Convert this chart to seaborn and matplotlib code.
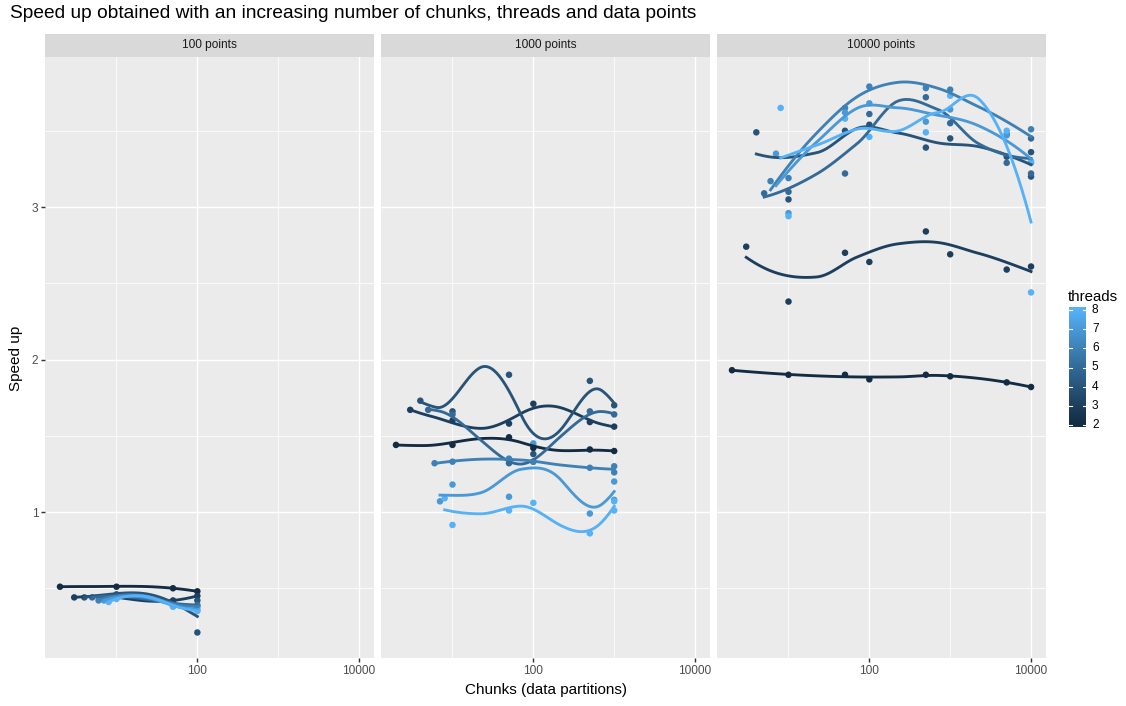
import numpy as np
import pandas as pd
import matplotlib
matplotlib.use("Agg")
import matplotlib.pyplot as plt
from matplotlib.colors import ListedColormap, Normalize
import seaborn as sns

# ---------------------------------------------------------------- data
thread_levels = [2, 3, 4, 5, 6, 7, 8]
panel_labels = ["100 points", "1000 points", "10000 points"]

# 100 data points
p100_threads = [2, 2, 2, 2,
                3, 3, 3, 3,
                4, 4, 4, 4, 4,
                5, 5, 5, 5,
                6, 6, 6, 6,
                7, 7, 7, 7,
                8, 8, 8, 8]
p100_chunks = [2, 10, 50, 100,
               3, 10, 50, 100,
               4, 10, 50, 100, 100,
               5, 10, 50, 100,
               6, 10, 50, 100,
               7, 10, 50, 100,
               8, 10, 50, 100]
p100_speedup = [0.51, 0.51, 0.50, 0.48,
                0.44, 0.45, 0.42, 0.45,
                0.44, 0.46, 0.41, 0.42, 0.21,
                0.44, 0.45, 0.40, 0.39,
                0.42, 0.45, 0.39, 0.38,
                0.42, 0.44, 0.38, 0.36,
                0.41, 0.43, 0.38, 0.35]

# 1000 data points
p1000_threads = [2] * 6 + [3] * 6 + [4] * 6 + [5] * 6 + [6] * 7 + [7] * 7 + [8] * 7
p1000_chunks = [2, 10, 50, 100, 500, 1000,
                3, 10, 50, 100, 500, 1000,
                4, 10, 50, 100, 500, 1000,
                5, 10, 50, 100, 500, 1000,
                6, 10, 50, 100, 500, 1000, 1000,
                7, 10, 50, 100, 500, 1000, 1000,
                8, 10, 50, 100, 500, 1000, 1000]
p1000_speedup = [1.44, 1.44, 1.49, 1.42, 1.41, 1.40,
                 1.67, 1.60, 1.58, 1.71, 1.59, 1.56,
                 1.73, 1.66, 1.90, 1.38, 1.86, 1.70,
                 1.67, 1.64, 1.32, 1.33, 1.66, 1.64,
                 1.32, 1.33, 1.35, 1.33, 1.29, 1.26, 1.30,
                 1.07, 1.18, 1.10, 1.45, 0.99, 1.20, 1.08,
                 1.09, 0.915, 1.01, 1.06, 0.86, 1.01, 1.07]

# 10000 data points
p10000_threads = [2] * 8 + [3] * 8 + [4] * 9 + [5] * 9 + [6] * 8 + [7] * 8 + [8] * 9
p10000_chunks = [2, 10, 50, 100, 500, 1000, 5000, 10000,
                 3, 10, 50, 100, 500, 1000, 5000, 10000,
                 4, 10, 50, 100, 500, 1000, 5000, 10000, 10000,
                 5, 10, 50, 100, 500, 1000, 5000, 10000, 10000,
                 6, 10, 50, 100, 500, 1000, 5000, 10000,
                 7, 10, 50, 100, 500, 1000, 5000, 10000,
                 8, 10, 50, 100, 500, 1000, 5000, 10000, 10000]
p10000_speedup = [1.93, 1.90, 1.90, 1.87, 1.90, 1.89, 1.85, 1.82,
                  2.74, 2.38, 2.70, 2.64, 2.84, 2.69, 2.59, 2.61,
                  3.49, 3.05, 3.50, 3.54, 3.39, 3.45, 3.33, 3.36, 3.20,
                  3.09, 3.10, 3.22, 3.61, 3.72, 3.55, 3.29, 3.45, 3.22,
                  3.17, 3.19, 3.65, 3.79, 3.78, 3.77, 3.48, 3.51,
                  3.35, 2.96, 3.62, 3.68, 3.56, 3.64, 3.47, 3.29,
                  3.65, 2.94, 3.58, 3.46, 3.49, 3.73, 3.50, 3.30, 2.44]

panels = [
    (panel_labels[0], p100_threads, p100_chunks, p100_speedup),
    (panel_labels[1], p1000_threads, p1000_chunks, p1000_speedup),
    (panel_labels[2], p10000_threads, p10000_chunks, p10000_speedup),
]


# ---------------------------------------------------------------- helpers
def _srgb_to_lab(hexcol):
    c = np.array([int(hexcol[i:i + 2], 16) for i in (1, 3, 5)]) / 255.0
    c = np.where(c <= 0.04045, c / 12.92, ((c + 0.055) / 1.055) ** 2.4)
    m = np.array([[0.4124, 0.3576, 0.1805],
                  [0.2126, 0.7152, 0.0722],
                  [0.0193, 0.1192, 0.9505]])
    xyz = m @ c / np.array([0.95047, 1.0, 1.08883])
    f = np.where(xyz > 0.008856, np.cbrt(xyz), 7.787 * xyz + 16 / 116)
    return np.array([116 * f[1] - 16, 500 * (f[0] - f[1]), 200 * (f[1] - f[2])])


def _lab_to_srgb(lab):
    L, a, b = lab
    fy_ = (L + 16) / 116
    f = np.array([fy_ + a / 500, fy_, fy_ - b / 200])
    xyz = np.where(f ** 3 > 0.008856, f ** 3, (f - 16 / 116) / 7.787)
    xyz = xyz * np.array([0.95047, 1.0, 1.08883])
    m = np.array([[3.2406, -1.5372, -0.4986],
                  [-0.9689, 1.8758, 0.0415],
                  [0.0557, -0.2040, 1.0570]])
    c = m @ xyz
    c = np.where(c <= 0.0031308, 12.92 * c, 1.055 * np.clip(c, 0, None) ** (1 / 2.4) - 0.055)
    return np.clip(c, 0, 1)


def lab_gradient(low, high, n=256):
    a, b = _srgb_to_lab(low), _srgb_to_lab(high)
    return ListedColormap([_lab_to_srgb(a + (b - a) * t) for t in np.linspace(0, 1, n)])


def _local_fit(x, y, x0, q, boost=1.1):
    """Value and slope of a tricube-weighted local quadratic at x0."""
    d = np.abs(x - x0)
    ds = np.sort(d)
    rho = ds[q - 1] * boost
    # widen the window until at least two distinct x values carry weight
    for cand in np.unique(ds):
        if len(np.unique(x[d < rho])) >= 2:
            break
        rho = max(rho, cand * boost)
    rho = max(rho, 1e-9)
    w = np.clip(1 - (d / rho) ** 3, 0, None) ** 3
    deg = 2 if len(np.unique(x[w > 1e-12])) >= 3 else 1
    X = np.column_stack([(x - x0) ** k for k in range(deg + 1)])
    sw = np.sqrt(w)
    beta = np.linalg.lstsq(X * sw[:, None], y * sw, rcond=1e-7)[0]
    return beta[0], beta[1]


def loess(x, y, span=0.75, n_out=80):
    """Loess smooth: local fits at cell vertices, cubic Hermite in between."""
    x = np.asarray(x, float)
    y = np.asarray(y, float)
    n = len(x)
    q = max(int(np.floor(n * span)), 1)
    ux = np.unique(x)
    mu = 0.005 * (ux[-1] - ux[0])
    verts = np.concatenate([[ux[0] - mu], (ux[:-1] + ux[1:]) / 2, [ux[-1] + mu]])
    vals = np.array([_local_fit(x, y, v, q) for v in verts])
    grid = np.linspace(x.min(), x.max(), n_out)
    out = []
    for g in grid:
        j = min(max(np.searchsorted(verts, g) - 1, 0), len(verts) - 2)
        x0, x1 = verts[j], verts[j + 1]
        h = x1 - x0
        t = (g - x0) / h
        f0, s0 = vals[j]
        f1, s1 = vals[j + 1]
        h00 = 2 * t ** 3 - 3 * t ** 2 + 1
        h10 = t ** 3 - 2 * t ** 2 + t
        h01 = -2 * t ** 3 + 3 * t ** 2
        h11 = t ** 3 - t ** 2
        out.append(h00 * f0 + h10 * h * s0 + h01 * f1 + h11 * h * s1)
    return grid, np.array(out)


# ---------------------------------------------------------------- figure
W, H = 1126, 706
fig = plt.figure(figsize=(W / 100, H / 100), dpi=100)
plt.rcParams["font.family"] = ["Liberation Sans", "DejaVu Sans"]

cmap = lab_gradient("#132B43", "#56B1F7")
hue_norm = (2, 8)


def fx(px):
    return px / W


def fy(py):
    return 1 - py / H


panel_left = [45, 381, 717]
panel_w = 329
panel_top, panel_bot = 57, 658
strip_top = 33.5

xlim = (10 ** 0.1157, 10 ** 4.185)
ylim = (0.0426, 3.984)

for i, (label, thr, chk, spd) in enumerate(panels):
    left = panel_left[i]
    ax = fig.add_axes([fx(left), fy(panel_bot), panel_w / W, (panel_bot - panel_top) / H])
    ax.set_facecolor("#EBEBEB")
    for s in ax.spines.values():
        s.set_visible(False)
    ax.set_xscale("log")
    ax.set_xlim(*xlim)
    ax.set_ylim(*ylim)

    ax.set_xticks([100, 10000])
    ax.set_xticklabels(["100", "10000"])
    ax.set_xticks([10, 1000], minor=True)
    ax.set_xticklabels([], minor=True)
    ax.set_yticks([1, 2, 3])
    ax.set_yticks([0.5, 1.5, 2.5, 3.5], minor=True)
    if i == 0:
        ax.set_yticklabels(["1", "2", "3"])
    else:
        ax.set_yticklabels([])
    ax.tick_params(which="major", length=2.64, width=1.02, color="#333333",
                   labelcolor="#4D4D4D", labelsize=8.6, pad=2.2)
    ax.tick_params(which="minor", length=0)
    if i != 0:
        ax.tick_params(axis="y", which="major", length=0)
    ax.grid(which="major", color="white", linewidth=1.02)
    ax.grid(which="minor", color="white", linewidth=0.51)
    ax.set_axisbelow(True)

    df = pd.DataFrame({"threads": thr, "chunks": chk, "speedup": spd})
    sns.scatterplot(data=df, x="chunks", y="speedup", hue="threads", palette=cmap,
                    hue_norm=hue_norm, s=22, linewidth=0, legend=False, ax=ax, zorder=3)

    rows = []
    for t in thread_levels:
        sub = df[df["threads"] == t]
        gx, gy = loess(np.log10(sub["chunks"].to_numpy()), sub["speedup"].to_numpy())
        rows.append(pd.DataFrame({"threads": t, "chunks": 10 ** gx, "speedup": gy}))
    smooth = pd.concat(rows, ignore_index=True)
    sns.lineplot(data=smooth, x="chunks", y="speedup", hue="threads", units="threads",
                 estimator=None, sort=False, palette=cmap, hue_norm=hue_norm,
                 linewidth=2.05, legend=False, ax=ax, zorder=4)
    ax.set_xlabel("")
    ax.set_ylabel("")

    # facet strip
    sax = fig.add_axes([fx(left), fy(panel_top), panel_w / W, (panel_top - strip_top) / H])
    sax.set_facecolor("#D9D9D9")
    sax.set_xticks([])
    sax.set_yticks([])
    for s in sax.spines.values():
        s.set_visible(False)
    sax.text(0.5, 0.5, label, ha="center", va="center", fontsize=8.6, color="#1A1A1A",
             transform=sax.transAxes)

# titles and axis labels
fig.text(fx(10), fy(14), "Speed up obtained with an increasing number of chunks, threads and data points",
         ha="left", va="center", fontsize=13.8, color="black")
fig.text(fx(546), fy(690), "Chunks (data partitions)", ha="center", va="center",
         fontsize=11.0, color="black")
fig.text(fx(16), fy(358), "Speed up", ha="center", va="center", rotation=90,
         fontsize=11.0, color="black")

# colourbar legend
cb_top, cb_bot = 307, 427
cax = fig.add_axes([fx(1069), fy(cb_bot), 17 / W, (cb_bot - cb_top) / H])
lo = 2 - (cb_bot - 425) / ((425 - 310) / 6)
hi = 8 + (310 - cb_top) / ((425 - 310) / 6)
grad = np.linspace(lo, hi, 300).reshape(-1, 1)
cax.imshow(grad, aspect="auto", origin="lower", cmap=cmap, norm=Normalize(2, 8),
           extent=[0, 1, lo, hi])
cax.set_xlim(0, 1)
cax.set_ylim(lo, hi)
for s in cax.spines.values():
    s.set_visible(False)
cax.set_xticks([])
cax.set_yticks([])
for t in thread_levels:
    cax.plot([0, 0.2], [t, t], color="white", lw=0.8)
    cax.plot([0.8, 1.0], [t, t], color="white", lw=0.8)
    cax.text(1.35, t, str(t), ha="left", va="center", fontsize=8.6, color="black",
             transform=cax.transData, clip_on=False)
fig.text(fx(1068), fy(297), "threads", ha="left", va="center", fontsize=10.8, color="black")

fig.savefig("out.png", dpi=100)
